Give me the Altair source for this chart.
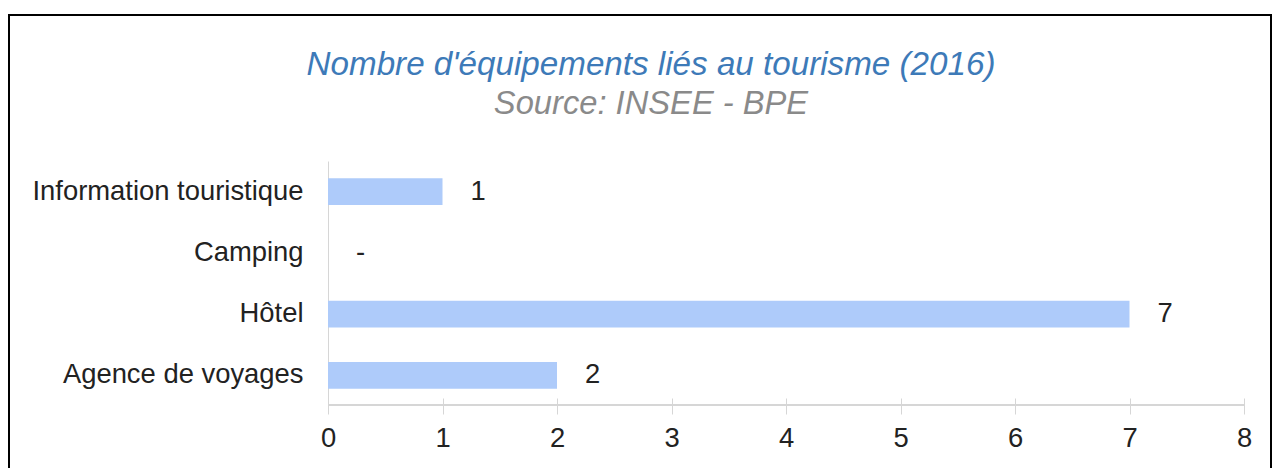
import altair as alt
import pandas as pd

categories = ["Information touristique", "Camping", "Hôtel", "Agence de voyages"]
values = [1, 0, 7, 2]
value_labels = [str(v) if v else "-" for v in values]
x_ticks = [0, 1, 2, 3, 4, 5, 6, 7, 8]

FONT = "Liberation Sans"
W, H = 916, 245

df = pd.DataFrame({"cat": categories, "value": values, "label": value_labels})

y_enc = alt.Y(
    "cat:N",
    sort=categories,
    title=None,
    scale=alt.Scale(paddingInner=0.56, paddingOuter=0.28),
    axis=alt.Axis(
        ticks=False,
        domainColor="#d6d6d6",
        domainWidth=1,
        labelFont=FONT,
        labelFontSize=27.4,
        labelColor="#222222",
        labelPadding=25,
        labelLimit=400,
    ),
)

x_scale = alt.Scale(domain=[0, 8], nice=False, zero=True)

bars = alt.Chart(df).mark_bar(color="#aecbfa").encode(
    x=alt.X(
        "value:Q",
        scale=x_scale,
        title=None,
        axis=alt.Axis(
            values=x_ticks,
            domain=False,
            grid=False,
            tickSize=16,
            tickColor="#d6d6d6",
            offset=-8,
            labelFont=FONT,
            labelFontSize=27.4,
            labelColor="#222222",
            labelPadding=10,
            labelFlush=False,
            labelOverlap=False,
            format="d",
        ),
    ),
    y=y_enc,
)

text = alt.Chart(df).mark_text(
    align="left", baseline="middle", dx=28, font=FONT, fontSize=27.4, color="#222222"
).encode(
    x=alt.X("value:Q", scale=x_scale),
    y=alt.Y("cat:N", sort=categories),
    text="label:N",
)

domain_df = pd.DataFrame({"a": [0], "b": [8]})
x_domain = alt.Chart(domain_df).mark_rule(color="#d6d6d6", strokeWidth=2).encode(
    x=alt.X("a:Q", scale=x_scale),
    x2="b:Q",
    y=alt.value(H - 1),
)

frame = alt.Chart(pd.DataFrame({"k": [0]})).mark_rect(
    fillOpacity=0, stroke="black", strokeWidth=2
).encode(
    x=alt.value(-319), x2=alt.value(943), y=alt.value(-146), y2=alt.value(340)
)

chart = alt.layer(frame, bars, x_domain, text).properties(
    width=W,
    height=H,
    autosize=alt.AutoSizeParams(type="none"),
    padding={"left": 320, "top": 153, "right": 28, "bottom": 62},
    title=alt.TitleParams(
        text="Nombre d'équipements liés au tourisme (2016)",
        subtitle="Source: INSEE - BPE",
        anchor="middle",
        frame="group",
        dx=-135,
        dy=152,
        offset=44,
        font=FONT,
        fontSize=33.2,
        fontStyle="italic",
        fontWeight="normal",
        color="#3d7ab8",
        subtitleFont=FONT,
        subtitleFontSize=32.7,
        subtitleFontStyle="italic",
        subtitleColor="#8a8a8a",
        subtitlePadding=6,
    ),
).configure(background="white").configure_view(strokeWidth=0)

chart.save("out.html", embed_options={"renderer": "svg", "actions": False})
